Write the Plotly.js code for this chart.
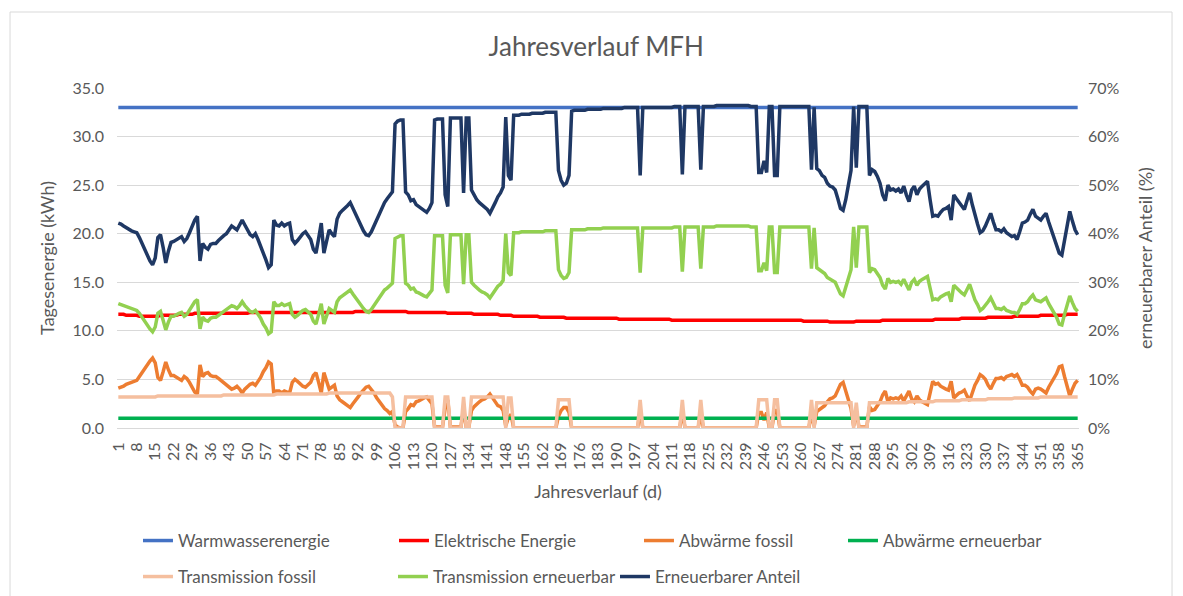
<!DOCTYPE html>
<html>
<head>
<meta charset="utf-8">
<script src="https://cdn.plot.ly/plotly-3.0.1.min.js"></script>
<style>
  html, body { margin: 0; padding: 0; background: #fff; }
  #chart { width: 1183px; height: 596px; }
</style>
</head>
<body>
<div id="chart"></div>
<script>
// days of the year (categories)
const days = Array.from({length: 365}, (_, i) => i + 1);
const dayTicks = [1,8,15,22,29,36,43,50,57,64,71,78,85,92,99,106,113,120,127,134,141,148,155,162,169,176,
  183,190,197,204,211,218,225,232,239,246,253,260,267,274,281,288,295,302,309,316,323,330,337,344,351,358,365];

// Warmwasserenergie (kWh)
const warmwasser = [
33,33,33,33,33,33,33,33,33,33, 33,33,33,33,33,33,33,33,33,33, 33,33,33,33,33,33,33,33,33,33,
33,33,33,33,33,33,33,33,33,33, 33,33,33,33,33,33,33,33,33,33, 33,33,33,33,33,33,33,33,33,33,
33,33,33,33,33,33,33,33,33,33, 33,33,33,33,33,33,33,33,33,33, 33,33,33,33,33,33,33,33,33,33,
33,33,33,33,33,33,33,33,33,33, 33,33,33,33,33,33,33,33,33,33, 33,33,33,33,33,33,33,33,33,33,
33,33,33,33,33,33,33,33,33,33, 33,33,33,33,33,33,33,33,33,33, 33,33,33,33,33,33,33,33,33,33,
33,33,33,33,33,33,33,33,33,33, 33,33,33,33,33,33,33,33,33,33, 33,33,33,33,33,33,33,33,33,33,
33,33,33,33,33,33,33,33,33,33, 33,33,33,33,33,33,33,33,33,33, 33,33,33,33,33,33,33,33,33,33,
33,33,33,33,33,33,33,33,33,33, 33,33,33,33,33,33,33,33,33,33, 33,33,33,33,33,33,33,33,33,33,
33,33,33,33,33,33,33,33,33,33, 33,33,33,33,33,33,33,33,33,33, 33,33,33,33,33,33,33,33,33,33,
33,33,33,33,33,33,33,33,33,33, 33,33,33,33,33,33,33,33,33,33, 33,33,33,33,33,33,33,33,33,33,
33,33,33,33,33,33,33,33,33,33, 33,33,33,33,33,33,33,33,33,33, 33,33,33,33,33,33,33,33,33,33,
33,33,33,33,33,33,33,33,33,33, 33,33,33,33,33,33,33,33,33,33, 33,33,33,33,33,33,33,33,33,33,
33,33,33,33,33
];

// Elektrische Energie (kWh)
const elektrisch = [
11.7,11.7,11.7,11.6,11.6,11.6,11.6,11.6,11.5,11.5,
11.5,11.5,11.5,11.5,11.5,11.5,11.6,11.6,11.6,11.6,
11.6,11.6,11.6,11.7,11.7,11.7,11.7,11.7,11.7,11.8,
11.8,11.8,11.8,11.8,11.8,11.8,11.8,11.8,11.8,11.8,
11.8,11.8,11.8,11.8,11.8,11.8,11.8,11.8,11.8,11.8,
11.9,11.9,11.9,11.9,11.9,11.9,11.9,11.9,11.9,11.9,
11.9,11.9,11.9,11.9,11.9,11.9,11.9,11.9,11.9,11.9,
11.9,11.9,11.9,11.9,11.9,11.9,11.9,11.9,11.9,11.9,
11.9,11.9,11.9,11.9,11.9,11.9,11.9,11.9,11.9,11.9,
12.0,12.0,12.0,12.0,12.0,12.0,12.0,12.0,12.0,12.0,
12.0,12.0,12.0,12.0,12.0,12.0,12.0,12.0,12.0,12.0,
11.9,11.9,11.9,11.9,11.9,11.9,11.9,11.9,11.9,11.9,
11.9,11.9,11.9,11.9,11.9,11.8,11.8,11.8,11.8,11.8,
11.8,11.8,11.8,11.8,11.8,11.7,11.7,11.7,11.7,11.7,
11.7,11.7,11.7,11.7,11.7,11.6,11.6,11.6,11.6,11.6,
11.5,11.5,11.5,11.5,11.5,11.5,11.5,11.5,11.5,11.5,
11.4,11.4,11.4,11.4,11.4,11.4,11.4,11.4,11.4,11.4,
11.3,11.3,11.3,11.3,11.3,11.3,11.3,11.3,11.3,11.3,
11.3,11.3,11.3,11.3,11.3,11.3,11.3,11.3,11.3,11.3,
11.2,11.2,11.2,11.2,11.2,11.2,11.2,11.2,11.2,11.2,
11.2,11.2,11.2,11.2,11.2,11.2,11.2,11.2,11.2,11.2,
11.1,11.1,11.1,11.1,11.1,11.1,11.1,11.1,11.1,11.1,
11.1,11.1,11.1,11.1,11.1,11.1,11.1,11.1,11.1,11.1,
11.1,11.1,11.1,11.1,11.1,11.1,11.1,11.1,11.1,11.1,
11.1,11.1,11.1,11.1,11.1,11.1,11.1,11.1,11.1,11.1,
11.1,11.1,11.1,11.1,11.1,11.1,11.1,11.1,11.1,11.1,
11.0,11.0,11.0,11.0,11.0,11.0,11.0,11.0,11.0,11.0,
10.9,10.9,10.9,10.9,10.9,10.9,10.9,10.9,10.9,10.9,
11.0,11.0,11.0,11.0,11.0,11.0,11.0,11.0,11.0,11.0,
11.1,11.1,11.1,11.1,11.1,11.1,11.1,11.1,11.1,11.1,
11.1,11.1,11.1,11.1,11.1,11.1,11.1,11.1,11.1,11.1,
11.2,11.2,11.2,11.2,11.2,11.2,11.2,11.2,11.2,11.2,
11.3,11.3,11.3,11.3,11.3,11.3,11.3,11.3,11.3,11.3,
11.4,11.4,11.4,11.4,11.4,11.4,11.4,11.4,11.4,11.4,
11.5,11.5,11.5,11.5,11.5,11.5,11.5,11.5,11.5,11.5,
11.6,11.6,11.6,11.6,11.6,11.6,11.6,11.6,11.6,11.6,
11.7,11.7,11.7,11.7,11.7
];

// Abwärme fossil (kWh)
const abwFossil = [
4.1,4.2,4.3,4.5,4.6,4.7,4.8,4.9,5.3,5.7,
6.2,6.6,6.9,7.2,6.7,5.2,4.9,5.8,6.8,6.0,
5.4,5.4,5.2,5.0,4.9,5.3,5.1,4.7,4.2,3.7,
3.5,6.5,5.3,5.6,5.7,5.4,5.3,5.3,5.1,4.9,
4.7,4.5,4.3,4.0,4.1,4.3,4.0,3.6,4.0,4.3,
4.5,4.6,4.4,4.8,5.2,5.8,6.2,6.8,6.6,3.5,
3.8,3.8,3.6,3.8,3.7,3.6,4.7,5.0,4.8,4.5,
4.3,4.2,4.5,4.7,5.4,5.7,4.7,3.6,5.7,4.9,
4.0,4.2,4.4,3.3,2.9,2.7,2.5,2.3,2.1,2.5,
2.8,3.2,3.6,3.9,4.2,4.3,4.0,3.6,3.1,2.7,
2.3,2.0,1.8,1.5,1.7,0.3,0.1,0,0,1.7,
2.0,2.4,2.3,2.7,2.8,3.0,3.1,3.2,2.9,2.5,
0.1,0.1,0.1,0.1,2.0,2.9,0.1,0.1,0.1,0.1,
0.1,2.0,0.1,0.1,1.8,2.2,2.5,2.7,2.9,3.0,
3.2,3.5,3.1,2.7,2.3,2.2,1.8,0.2,1.1,1.4,
0,0,0,0,0,0,0,0,0,0,
0,0,0,0,0,0,0,1.2,1.8,2.1,
2.1,1.6,0,0,0,0,0,0,0,0,
0,0,0,0,0,0,0,0,0,0,
0,0,0,0,0,0,0,0,1.7,0,
0,0,0,0,0,0,0,0,0,0,
0,0,0,0,1.7,0,0,0,0,0,
0,1.4,0,0,0,0,0,0,0,0,
0,0,0,0,0,0,0,0,0,0,
0,0,0,1.6,1.6,0.8,1.6,0,0,1.8,
1.8,0,0,0,0,0,0,0,0,0,
0,0,0,1.5,0.2,1.7,1.9,2.2,2.3,2.7,
3.0,3.1,3.3,3.9,4.5,4.7,3.9,2.9,2.0,0.2,
1.7,0.1,0.1,0.1,0.1,2.2,1.8,1.9,2.3,2.7,
3.4,3.8,2.7,3.1,3.0,3.1,3.0,3.3,2.8,3.4,
3.8,3.0,2.7,3.3,2.9,2.7,2.5,2.4,3.6,4.8,
4.5,4.6,4.3,4.1,4.0,3.9,4.8,3.1,3.4,3.6,
3.7,3.9,3.3,2.8,3.6,4.4,4.9,5.5,5.3,5.0,
4.4,4.0,4.6,5.1,5.1,5.2,5.0,5.3,5.4,5.5,
5.3,5.5,5.0,4.4,4.4,4.2,3.8,3.5,4.0,4.1,
4.0,3.8,3.6,4.2,4.7,5.1,5.6,6.3,6.4,5.3,
4.3,3.3,4.0,4.6,4.9
];

// Abwärme erneuerbar (kWh)
const abwErneuerbar = [
1,1,1,1,1,1,1,1,1,1, 1,1,1,1,1,1,1,1,1,1, 1,1,1,1,1,1,1,1,1,1,
1,1,1,1,1,1,1,1,1,1, 1,1,1,1,1,1,1,1,1,1, 1,1,1,1,1,1,1,1,1,1,
1,1,1,1,1,1,1,1,1,1, 1,1,1,1,1,1,1,1,1,1, 1,1,1,1,1,1,1,1,1,1,
1,1,1,1,1,1,1,1,1,1, 1,1,1,1,1,1,1,1,1,1, 1,1,1,1,1,1,1,1,1,1,
1,1,1,1,1,1,1,1,1,1, 1,1,1,1,1,1,1,1,1,1, 1,1,1,1,1,1,1,1,1,1,
1,1,1,1,1,1,1,1,1,1, 1,1,1,1,1,1,1,1,1,1, 1,1,1,1,1,1,1,1,1,1,
1,1,1,1,1,1,1,1,1,1, 1,1,1,1,1,1,1,1,1,1, 1,1,1,1,1,1,1,1,1,1,
1,1,1,1,1,1,1,1,1,1, 1,1,1,1,1,1,1,1,1,1, 1,1,1,1,1,1,1,1,1,1,
1,1,1,1,1,1,1,1,1,1, 1,1,1,1,1,1,1,1,1,1, 1,1,1,1,1,1,1,1,1,1,
1,1,1,1,1,1,1,1,1,1, 1,1,1,1,1,1,1,1,1,1, 1,1,1,1,1,1,1,1,1,1,
1,1,1,1,1,1,1,1,1,1, 1,1,1,1,1,1,1,1,1,1, 1,1,1,1,1,1,1,1,1,1,
1,1,1,1,1,1,1,1,1,1, 1,1,1,1,1,1,1,1,1,1, 1,1,1,1,1,1,1,1,1,1,
1,1,1,1,1
];

// Transmission fossil (kWh)
const trFossil = [
3.2,3.2,3.2,3.2,3.2,3.2,3.2,3.2,3.2,3.2,
3.2,3.2,3.2,3.2,3.2,3.3,3.3,3.3,3.3,3.3,
3.3,3.3,3.3,3.3,3.3,3.3,3.3,3.3,3.3,3.3,
3.3,3.3,3.3,3.3,3.3,3.3,3.3,3.3,3.3,3.3,
3.4,3.4,3.4,3.4,3.4,3.4,3.4,3.4,3.4,3.4,
3.4,3.4,3.4,3.4,3.4,3.4,3.4,3.4,3.4,3.4,
3.5,3.5,3.5,3.5,3.5,3.5,3.5,3.5,3.5,3.5,
3.5,3.5,3.5,3.5,3.5,3.5,3.5,3.5,3.5,3.5,
3.6,3.6,3.6,3.6,3.6,3.6,3.6,3.6,3.6,3.6,
3.6,3.6,3.6,3.6,3.6,3.6,3.6,3.6,3.6,3.6,
3.6,3.6,3.6,3.6,3.2,0,0,0,0,3.2,
3.2,3.2,3.2,3.2,3.2,3.2,3.2,3.2,3.2,3.2,
0,0,0,0,3.2,3.2,0,0,0,0,
0,3.2,0,0,3.2,3.2,3.2,3.2,3.2,3.2,
3.2,3.2,3.2,3.2,3.2,3.2,3.2,0,3.1,3.1,
0,0,0,0,0,0,0,0,0,0,
0,0,0,0,0,0,0,2.9,2.9,2.9,
2.9,2.9,0,0,0,0,0,0,0,0,
0,0,0,0,0,0,0,0,0,0,
0,0,0,0,0,0,0,0,2.9,0,
0,0,0,0,0,0,0,0,0,0,
0,0,0,0,2.9,0,0,0,0,0,
0,2.9,0,0,0,0,0,0,0,0,
0,0,0,0,0,0,0,0,0,0,
0,0,0,2.9,2.9,2.9,2.9,0,0,2.9,
2.9,0,0,0,0,0,0,0,0,0,
0,0,0,2.9,0,2.6,2.6,2.6,2.6,2.6,
2.6,2.6,2.6,2.6,2.6,2.6,2.6,2.6,2.6,0,
2.6,0,0,0,0,2.6,2.6,2.6,2.6,2.6,
2.6,2.6,2.6,2.6,2.6,2.6,2.6,2.6,2.6,2.6,
2.7,2.7,2.7,2.7,2.7,2.7,2.7,2.7,2.7,2.7,
2.8,2.8,2.8,2.8,2.8,2.8,2.8,2.8,2.8,2.8,
2.9,2.9,2.9,2.9,2.9,2.9,2.9,2.9,2.9,2.9,
3.0,3.0,3.0,3.0,3.0,3.0,3.0,3.0,3.0,3.0,
3.1,3.1,3.1,3.1,3.1,3.1,3.1,3.1,3.1,3.1,
3.2,3.2,3.2,3.2,3.2,3.2,3.2,3.2,3.2,3.2,
3.2,3.2,3.2,3.2,3.2
];

// Transmission erneuerbar (kWh)
const trErneuerbar = [
12.8,12.7,12.6,12.5,12.4,12.3,12.2,12.1,11.8,11.4,
10.9,10.5,10.2,9.9,10.4,11.8,12.0,11.1,10.1,10.9,
11.5,11.5,11.7,11.8,11.9,11.5,11.7,12.1,12.6,13.0,
13.2,10.2,11.4,11.1,11.0,11.3,11.4,11.4,11.6,11.8,
11.9,12.1,12.3,12.6,12.5,12.3,12.6,13.0,12.6,12.3,
12.0,11.9,12.1,11.7,11.3,10.7,10.3,9.7,9.9,13.0,
12.6,12.6,12.8,12.6,12.7,12.8,11.7,11.4,11.6,11.9,
12.1,12.2,11.9,11.7,11.0,10.7,11.7,12.8,10.7,11.5,
12.3,12.1,11.9,13.0,13.4,13.6,13.8,14.0,14.2,13.8,
13.4,13.0,12.6,12.3,12.0,11.9,12.2,12.6,13.1,13.5,
13.9,14.2,14.4,14.7,14.9,19.5,19.7,19.8,19.8,14.9,
14.7,14.3,14.4,14.0,13.9,13.7,13.6,13.5,13.8,14.2,
19.8,19.8,19.8,19.8,14.7,13.9,19.9,19.9,19.9,19.9,
19.9,14.8,19.9,19.9,15.0,14.7,14.4,14.2,14.0,13.9,
13.7,13.4,13.8,14.2,14.6,14.8,15.2,20.0,16.0,15.7,
20.1,20.1,20.1,20.2,20.2,20.2,20.2,20.2,20.2,20.2,
20.2,20.2,20.3,20.3,20.3,20.3,20.3,16.3,15.7,15.4,
15.5,16.0,20.4,20.4,20.4,20.4,20.4,20.4,20.5,20.5,
20.5,20.5,20.5,20.5,20.6,20.6,20.6,20.6,20.6,20.6,
20.6,20.6,20.6,20.6,20.6,20.6,20.6,20.6,16.0,20.6,
20.6,20.6,20.6,20.6,20.6,20.6,20.6,20.6,20.6,20.6,
20.6,20.7,20.7,20.7,16.1,20.7,20.7,20.7,20.7,20.7,
20.7,16.4,20.7,20.7,20.7,20.7,20.7,20.8,20.8,20.8,
20.8,20.8,20.8,20.8,20.8,20.8,20.8,20.8,20.8,20.8,
20.7,20.7,20.7,16.2,16.2,17.0,16.2,20.7,20.7,16.0,
16.0,20.7,20.7,20.7,20.7,20.7,20.7,20.7,20.7,20.7,
20.7,20.7,20.7,16.4,20.6,16.5,16.3,16.0,15.9,15.5,
15.3,15.2,15.0,14.4,13.8,13.6,14.4,15.4,16.3,20.7,
16.5,20.7,20.7,20.7,20.7,16.0,16.4,16.3,15.9,15.5,
14.7,14.3,15.4,15.0,15.1,15.0,15.1,14.8,15.3,14.7,
14.2,15.0,15.3,14.7,15.1,15.3,15.5,15.6,14.4,13.2,
13.3,13.2,13.5,13.7,13.8,13.9,13.0,14.7,14.4,14.2,
13.9,13.7,14.3,14.8,14.0,13.2,12.7,12.1,12.3,12.6,
13.0,13.4,12.8,12.3,12.3,12.2,12.4,12.1,12.0,11.9,
11.9,11.7,12.2,12.8,12.8,13.0,13.4,13.7,13.2,13.1,
13.0,13.2,13.4,12.8,12.3,11.9,11.4,10.7,10.6,11.7,
12.6,13.6,12.9,12.3,12.0
];

// Erneuerbarer Anteil (%), right axis
const anteil = [
42.2,42.0,41.6,41.2,41.0,40.6,40.4,40.2,39.2,38.0,
36.6,35.4,34.4,33.6,35.0,39.2,39.8,37.2,34.0,36.4,
38.2,38.4,38.8,39.2,39.4,38.4,39.0,40.2,41.6,42.8,
43.6,34.4,38.0,37.2,36.8,37.8,38.0,38.0,38.6,39.2,
39.6,40.0,40.8,41.6,41.2,40.8,41.8,42.8,41.8,40.8,
39.8,39.4,40.0,38.8,37.6,36.0,34.6,33.0,33.6,42.8,
41.8,41.6,42.2,41.6,42.0,42.2,38.8,38.0,38.6,39.4,
40.0,40.4,39.6,38.8,36.8,36.0,39.0,42.2,36.0,38.4,
40.8,40.0,39.4,43.0,44.2,44.8,45.2,45.8,46.4,45.2,
44.2,42.8,41.6,40.6,39.8,39.6,40.4,41.6,43.2,44.4,
45.6,46.4,47.2,48.0,48.6,62.6,63.2,63.4,63.4,48.6,
48.0,46.8,47.0,46.0,45.6,45.0,44.6,44.4,45.2,46.4,
63.4,63.6,63.6,63.6,48.0,45.6,63.8,63.8,63.8,63.8,
63.8,48.4,63.8,63.8,49.0,48.0,47.0,46.4,46.0,45.6,
45.0,44.2,45.2,46.4,47.6,48.4,49.6,64.0,52.0,51.0,
64.4,64.4,64.4,64.6,64.6,64.6,64.6,64.8,64.8,64.8,
64.8,64.8,65.0,65.0,65.0,65.0,65.0,53.0,51.0,50.0,
50.4,52.0,65.2,65.4,65.4,65.4,65.4,65.4,65.6,65.6,
65.6,65.6,65.6,65.6,65.8,65.8,65.8,65.8,65.8,65.8,
65.8,65.8,66.0,66.0,66.0,66.0,66.0,66.0,52.0,66.0,
66.0,66.0,66.0,66.0,66.0,66.0,66.0,66.0,66.0,66.0,
66.0,66.2,66.2,66.2,52.2,66.2,66.2,66.2,66.2,66.2,
66.2,53.2,66.2,66.2,66.2,66.2,66.2,66.4,66.4,66.4,
66.4,66.4,66.4,66.4,66.4,66.4,66.4,66.4,66.4,66.4,
66.2,66.2,66.2,52.6,52.6,55.0,52.6,66.2,66.2,52.0,
52.0,66.2,66.2,66.2,66.2,66.2,66.2,66.2,66.2,66.2,
66.2,66.2,66.2,53.2,66.0,53.4,53.0,52.0,51.6,50.4,
49.8,49.6,49.0,47.2,45.2,44.8,47.0,50.0,53.0,66.2,
53.6,66.2,66.2,66.2,66.2,52.0,53.2,52.8,51.8,50.4,
48.0,46.8,50.0,49.0,49.2,48.8,49.2,48.4,49.8,48.0,
46.6,49.0,49.8,48.0,49.2,49.8,50.4,50.8,47.0,43.6,
43.8,43.6,44.4,45.0,45.2,45.6,42.8,48.0,47.2,46.4,
45.6,45.0,46.8,48.4,46.0,43.6,42.0,40.2,40.6,41.6,
43.0,44.2,42.4,40.8,40.8,40.4,41.0,40.2,39.8,39.4,
39.6,38.8,40.4,42.2,42.4,42.8,44.0,45.0,43.6,43.2,
42.8,43.6,44.2,42.4,40.8,39.4,38.0,36.0,35.6,38.8,
41.6,44.6,42.6,40.8,39.8
];

const FONT = 'Lato, "Open Sans", sans-serif';
const GREY = '#595959';

function line(name, y, color, legend, legendwidth, yaxis) {
  return {
    x: days, y: y, name: name, type: 'scatter', mode: 'lines',
    line: {color: color, width: 3.5},
    legend: legend, legendwidth: legendwidth,
    yaxis: yaxis || 'y', hoverinfo: 'skip'
  };
}

const traces = [
  line('Warmwasserenergie', warmwasser, '#4472C4', 'legend', 211),
  line('Elektrische Energie', elektrisch, '#FF0000', 'legend', 200),
  line('Abwärme fossil', abwFossil, '#ED7D31', 'legend', 159),
  line('Abwärme erneuerbar', abwErneuerbar, '#00B050', 'legend', 160),
  line('Transmission fossil', trFossil, '#F5BF9F', 'legend2', 210),
  line('Transmission erneuerbar', trErneuerbar, '#92D050', 'legend2', 177),
  line('Erneuerbarer Anteil', anteil, '#1F3864', 'legend2', 160, 'y2')
];

// legends placed in container coordinates so they do not push the margins
const legendBase = {
  orientation: 'h', xanchor: 'left', yanchor: 'middle', yref: 'container',
  x: 0.0218, font: {family: FONT, size: 17, color: GREY},
  bgcolor: 'rgba(0,0,0,0)', itemwidth: 30, traceorder: 'normal'
};

const layout = {
  width: 1183, height: 596,
  margin: {l: 117, r: 104, t: 88, b: 168},
  paper_bgcolor: '#fff', plot_bgcolor: '#fff',
  font: {family: FONT, size: 16, color: GREY},
  title: {
    text: 'Jahresverlauf MFH', font: {family: FONT, size: 26, color: GREY},
    xref: 'container', x: 0.504, yref: 'container', y: 0.921, yanchor: 'middle'
  },
  xaxis: {
    range: [0.5, 365.5], tickmode: 'array', tickvals: dayTicks, ticktext: dayTicks.map(String),
    tickangle: -90, tickfont: {size: 16, color: GREY}, ticklabelstandoff: 7,
    showgrid: false, zeroline: false, showline: true, linecolor: '#D9D9D9', linewidth: 1,
    title: {text: 'Jahresverlauf (d)', font: {size: 18, color: GREY}, standoff: 16}
  },
  yaxis: {
    range: [0, 35], dtick: 5, tickformat: '.1f', tickfont: {size: 16, color: GREY},
    ticklabelstandoff: 12, gridcolor: '#D9D9D9', gridwidth: 1, zeroline: false, showline: false,
    title: {text: 'Tagesenergie (kWh)', font: {size: 18, color: GREY}, standoff: 13}
  },
  yaxis2: {
    overlaying: 'y', side: 'right', range: [0, 70], dtick: 10, ticksuffix: '%',
    tickfont: {size: 16, color: GREY}, ticklabelstandoff: 8,
    showgrid: false, zeroline: false, showline: false,
    title: {text: 'erneuerbarer Anteil (%)', font: {size: 18, color: GREY}, standoff: 20}
  },
  legend: Object.assign({}, legendBase, {y: 0.0923}),
  legend2: Object.assign({}, legendBase, {y: 0.0319}),
  shapes: [{
    type: 'rect', xref: 'paper', yref: 'paper', layer: 'below',
    x0: -0.1112, x1: 1.0967, y0: -0.52, y1: 1.2235,
    line: {color: '#D9D9D9', width: 1}, fillcolor: 'rgba(0,0,0,0)'
  }]
};

Plotly.newPlot('chart', traces, layout, {displayModeBar: false, staticPlot: true});
</script>
</body>
</html>
